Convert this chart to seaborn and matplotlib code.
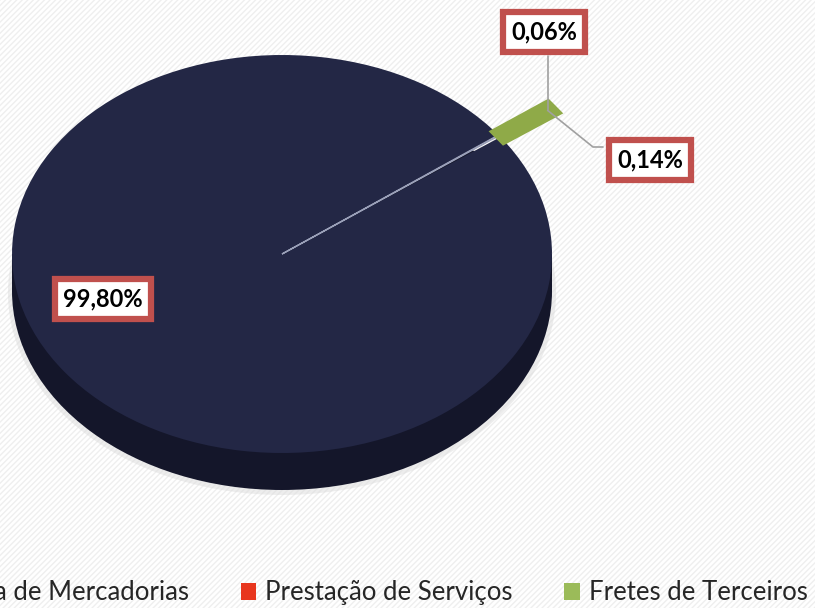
import numpy as np
import matplotlib.pyplot as plt
import seaborn as sns
from matplotlib.patches import Ellipse, Rectangle, Patch

# data
categories = ["Venda de Mercadorias", "Prestação de Serviços", "Fretes de Terceiros"]
shares = [99.80, 0.06, 0.14]
share_labels = ["99,80%", "0,06%", "0,14%"]
colors = ["#232745", "#E8361E", "#8FAA48"]
legend_colors = ["#232745", "#E8361E", "#9BBB59"]

SIDE = "#14162A"
BORDER = "#C0504D"

# pixel geometry of the tilted pie top (815x608 canvas)
CX, CY = 282.0, 254.0
RX, RY = 270.0, 199.0
DEPTH = 37.0 / RY


def px_to_data(x, y):
    return (x - CX) / RX, (CY - y) / RY


sns.set_theme(style="white")
plt.rcParams["font.family"] = ["Lato", "DejaVu Sans"]

fig = plt.figure(figsize=(8.15, 6.08), dpi=100)

bg = fig.add_axes([0, 0, 1, 1])
bg.set_axis_off()
bg.add_patch(Rectangle((0, 0), 1, 1, transform=bg.transAxes, facecolor="white",
                       edgecolor="#EFEFEF", hatch="//////", linewidth=0))

ax = fig.add_axes([0, 0, 1, 1])
x0, _ = px_to_data(0, 0)
x1, _ = px_to_data(815, 0)
_, ytop = px_to_data(0, 0)
_, ybot = px_to_data(0, 608)

# shadow + cylinder side
ax.add_patch(Ellipse((0.0, -DEPTH - 0.01), 2.03, 2.03, facecolor="#DCDCDC",
                     edgecolor="none", alpha=0.5, zorder=1))
ax.add_patch(Ellipse((0, -DEPTH), 2, 2, facecolor=SIDE, edgecolor="none", zorder=2))
ax.add_patch(Rectangle((-1, -DEPTH), 2, DEPTH, facecolor=SIDE, edgecolor="none", zorder=2))

wedges, _ = ax.pie(
    shares,
    colors=colors,
    startangle=36,
    counterclock=False,
    explode=[0, 0, 0.22],
    radius=1,
    center=(0, 0),
    frame=True,
    wedgeprops=dict(linewidth=0),
)
ax.set_axis_off()
ax.patch.set_alpha(0)
ax.set_aspect("auto")
ax.set_xlim(x0, x1)
ax.set_ylim(ybot, ytop)
for w in wedges:
    w.set_zorder(3)

wedges[1].set_edgecolor("#9AA0B8")
wedges[1].set_linewidth(1.0)
wedges[2].set_width(0.2)
wedges[2].set_edgecolor(colors[2])
wedges[2].set_linewidth(13)


# outer tip of a slice
def tip(w):
    ang = np.deg2rad((w.theta1 + w.theta2) / 2)
    cx, cy = w.center
    return cx + w.r * np.cos(ang), cy + w.r * np.sin(ang)


green_tip = tip(wedges[2])

label_pos = {
    0: (103, 299),
    1: (544, 32),
    2: (650, 160),
}
for i, lab in enumerate(share_labels):
    lx, ly = px_to_data(*label_pos[i])
    ax.text(lx, ly, lab, ha="center", va="center", fontsize=17, fontweight="bold",
            color="black", zorder=6,
            bbox=dict(boxstyle="square,pad=0.36", facecolor="white",
                      edgecolor=BORDER, linewidth=4.5))

# leader lines
lead_col = "#A0A0A0"
bx, by = px_to_data(552, 56)
ax.plot([green_tip[0], green_tip[0]], [by, green_tip[1]], color=lead_col, lw=1.2, zorder=4)
p1 = px_to_data(603, 147)
p2 = px_to_data(593, 147)
ax.plot([p1[0], p2[0], green_tip[0]], [p1[1], p2[1], green_tip[1]],
        color=lead_col, lw=1.2, zorder=4)

handles = [Patch(facecolor=c, edgecolor="none") for c in legend_colors]
fig.legend(handles, categories, loc="lower right", bbox_to_anchor=(810 / 815, 0.0),
           ncol=3, frameon=False, fontsize=18.5, handlelength=0.6, handleheight=0.6,
           handletextpad=0.35, columnspacing=2.0, borderpad=0.1, borderaxespad=0)

fig.savefig("out.png", dpi=100)
